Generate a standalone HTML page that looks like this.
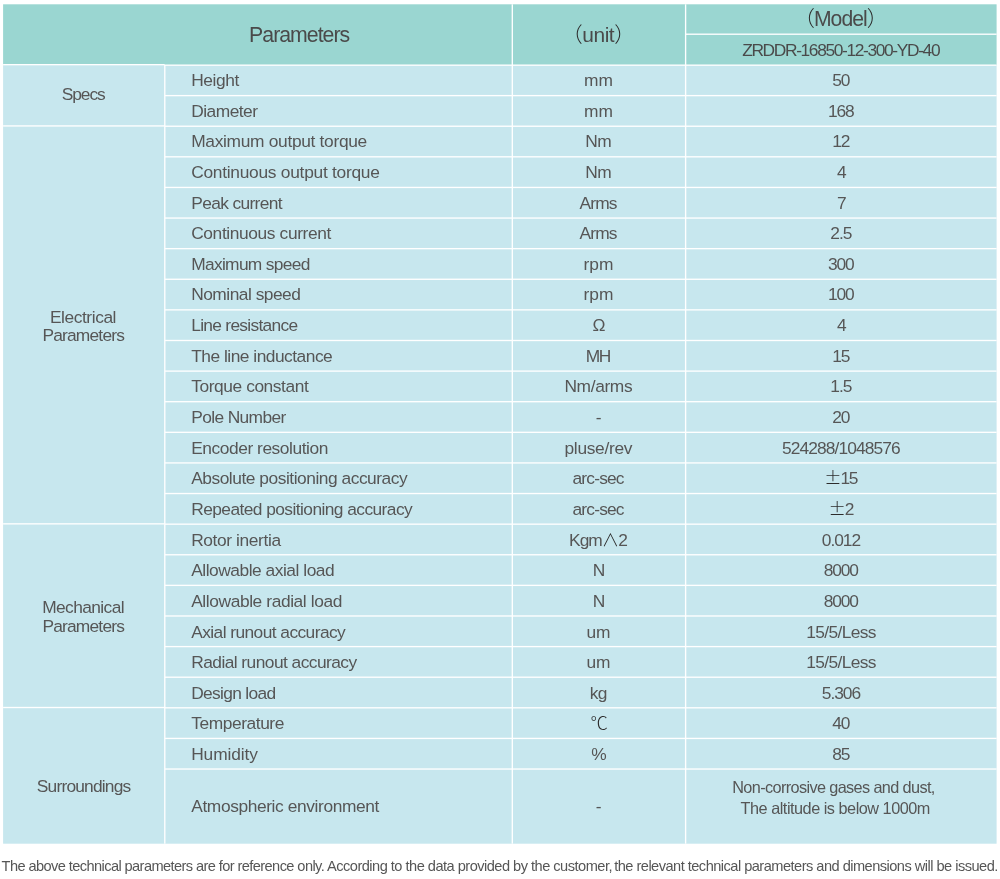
<!DOCTYPE html>
<html lang="en"><head><meta charset="utf-8"><title>Parameters</title>
<style>
html,body{margin:0;padding:0;background:#fff;}
body{width:1000px;height:879px;position:relative;overflow:hidden;font-family:"Liberation Sans","Noto Sans CJK SC",sans-serif;font-weight:300;color:#565656;}
svg.bg{position:absolute;left:0;top:0;}
.t{position:absolute;white-space:nowrap;line-height:24px;height:24px;}
.pm{font-family:"Noto Sans CJK SC",sans-serif;line-height:0;color:#2c2c2c;}
.k{color:#2c2c2c;}
.h{color:#4a4a4a;}
.note{margin:0;}
span.t{display:block;}
</style></head><body>
<svg class="bg" width="1000" height="879" viewBox="0 0 1000 879">
<rect x="3.1" y="4.3" width="993.5" height="60.7" fill="#9ad6d1"/>
<rect x="3.1" y="65.0" width="993.5" height="778.7" fill="#c7e7ee"/>
<rect x="3.1" y="63.98" width="161.70" height="1.35" fill="#fff"/>
<rect x="164.8" y="64.48" width="831.80" height="1.35" fill="#fff"/>
<rect x="685.6" y="33.53" width="311.00" height="1.35" fill="#fff"/>
<rect x="511.62" y="4.3" width="1.35" height="839.40" fill="#fff"/>
<rect x="684.93" y="4.3" width="1.35" height="839.40" fill="#fff"/>
<rect x="164.12" y="65.0" width="1.35" height="778.70" fill="#fff"/>
<rect x="164.8" y="94.94" width="831.80" height="1.35" fill="#fff"/>
<rect x="3.1" y="125.25" width="161.70" height="1.35" fill="#fff"/>
<rect x="164.8" y="125.55" width="831.80" height="1.35" fill="#fff"/>
<rect x="164.8" y="156.15" width="831.80" height="1.35" fill="#fff"/>
<rect x="164.8" y="186.76" width="831.80" height="1.35" fill="#fff"/>
<rect x="164.8" y="217.38" width="831.80" height="1.35" fill="#fff"/>
<rect x="164.8" y="247.98" width="831.80" height="1.35" fill="#fff"/>
<rect x="164.8" y="278.59" width="831.80" height="1.35" fill="#fff"/>
<rect x="164.8" y="309.20" width="831.80" height="1.35" fill="#fff"/>
<rect x="164.8" y="339.81" width="831.80" height="1.35" fill="#fff"/>
<rect x="164.8" y="370.43" width="831.80" height="1.35" fill="#fff"/>
<rect x="164.8" y="401.03" width="831.80" height="1.35" fill="#fff"/>
<rect x="164.8" y="431.64" width="831.80" height="1.35" fill="#fff"/>
<rect x="164.8" y="462.25" width="831.80" height="1.35" fill="#fff"/>
<rect x="164.8" y="492.86" width="831.80" height="1.35" fill="#fff"/>
<rect x="3.1" y="523.18" width="161.70" height="1.35" fill="#fff"/>
<rect x="164.8" y="523.48" width="831.80" height="1.35" fill="#fff"/>
<rect x="164.8" y="554.09" width="831.80" height="1.35" fill="#fff"/>
<rect x="164.8" y="584.70" width="831.80" height="1.35" fill="#fff"/>
<rect x="164.8" y="615.31" width="831.80" height="1.35" fill="#fff"/>
<rect x="164.8" y="645.92" width="831.80" height="1.35" fill="#fff"/>
<rect x="164.8" y="676.53" width="831.80" height="1.35" fill="#fff"/>
<rect x="3.1" y="706.84" width="161.70" height="1.35" fill="#fff"/>
<rect x="164.8" y="707.13" width="831.80" height="1.35" fill="#fff"/>
<rect x="164.8" y="737.75" width="831.80" height="1.35" fill="#fff"/>
<rect x="164.8" y="768.36" width="831.80" height="1.35" fill="#fff"/>
</svg>
<main>
<div class="thead">
<div class="t h" style="left:249.1px;top:23.2px;font-size:21.27px;letter-spacing:-0.983px">Parameters</div>
<div class="t h" style="left:561.7px;top:22.8px;font-size:20.94px;letter-spacing:-0.427px"><span class="k">（</span>unit<span class="k">）</span></div>
<div class="t h" style="left:793.7px;top:6.8px;font-size:21.16px;letter-spacing:-0.938px"><span class="k">（</span>Model<span class="k">）</span></div>
<div class="t h" style="left:742.2px;top:38.2px;font-size:17.36px;letter-spacing:-1.359px">ZRDDR-16850-12-300-YD-40</div>
</div>
<div class="tbody">
<div class="r"><div class="t" style="left:191.2px;top:68.2px;font-size:17.36px;letter-spacing:-0.393px">Height</div><div class="t" style="left:584.0px;top:68.2px;font-size:17.36px;letter-spacing:0.008px">mm</div><div class="t" style="left:832.3px;top:68.2px;font-size:17.36px;letter-spacing:-1.094px">50</div></div>
<div class="r"><div class="t" style="left:191.2px;top:99.2px;font-size:17.36px;letter-spacing:-0.516px">Diameter</div><div class="t" style="left:584.0px;top:99.2px;font-size:17.36px;letter-spacing:0.008px">mm</div><div class="t" style="left:828.0px;top:99.2px;font-size:17.36px;letter-spacing:-1.094px">168</div></div>
<div class="r"><div class="t" style="left:191.2px;top:129.2px;font-size:17.36px;letter-spacing:-0.315px">Maximum output torque</div><div class="t" style="left:585.3px;top:129.2px;font-size:17.36px;letter-spacing:-0.609px">Nm</div><div class="t" style="left:832.3px;top:129.2px;font-size:17.36px;letter-spacing:-1.094px">12</div></div>
<div class="r"><div class="t" style="left:191.2px;top:160.2px;font-size:17.36px;letter-spacing:-0.274px">Continuous output torque</div><div class="t" style="left:585.3px;top:160.2px;font-size:17.36px;letter-spacing:-0.609px">Nm</div><div class="t" style="left:837.1px;top:160.2px;font-size:17.36px;letter-spacing:0.000px">4</div></div>
<div class="r"><div class="t" style="left:191.2px;top:191.2px;font-size:17.36px;letter-spacing:-0.639px">Peak current</div><div class="t" style="left:579.6px;top:191.2px;font-size:17.36px;letter-spacing:-0.910px">Arms</div><div class="t" style="left:837.1px;top:191.2px;font-size:17.36px;letter-spacing:0.000px">7</div></div>
<div class="r"><div class="t" style="left:191.2px;top:221.2px;font-size:17.36px;letter-spacing:-0.384px">Continuous current</div><div class="t" style="left:579.6px;top:221.2px;font-size:17.36px;letter-spacing:-0.910px">Arms</div><div class="t" style="left:830.3px;top:221.2px;font-size:17.36px;letter-spacing:-1.005px">2.5</div></div>
<div class="r"><div class="t" style="left:191.2px;top:252.2px;font-size:17.36px;letter-spacing:-0.680px">Maximum speed</div><div class="t" style="left:583.6px;top:252.2px;font-size:17.36px;letter-spacing:-0.005px">rpm</div><div class="t" style="left:828.0px;top:252.2px;font-size:17.36px;letter-spacing:-1.094px">300</div></div>
<div class="r"><div class="t" style="left:191.2px;top:282.2px;font-size:17.36px;letter-spacing:-0.506px">Nominal speed</div><div class="t" style="left:583.6px;top:282.2px;font-size:17.36px;letter-spacing:-0.005px">rpm</div><div class="t" style="left:828.0px;top:282.2px;font-size:17.36px;letter-spacing:-1.094px">100</div></div>
<div class="r"><div class="t" style="left:191.2px;top:313.2px;font-size:17.36px;letter-spacing:-0.703px">Line resistance</div><div class="t" style="left:592.6px;top:313.2px;font-size:17.36px;letter-spacing:0.000px">Ω</div><div class="t" style="left:837.1px;top:313.2px;font-size:17.36px;letter-spacing:0.000px">4</div></div>
<div class="r"><div class="t" style="left:191.2px;top:344.2px;font-size:17.36px;letter-spacing:-0.498px">The line inductance</div><div class="t" style="left:585.8px;top:344.2px;font-size:17.36px;letter-spacing:-1.523px">MH</div><div class="t" style="left:832.3px;top:344.2px;font-size:17.36px;letter-spacing:-1.094px">15</div></div>
<div class="r"><div class="t" style="left:191.2px;top:374.2px;font-size:17.36px;letter-spacing:-0.423px">Torque constant</div><div class="t" style="left:564.4px;top:374.2px;font-size:17.36px;letter-spacing:-0.359px">Nm/arms</div><div class="t" style="left:830.3px;top:374.2px;font-size:17.36px;letter-spacing:-1.005px">1.5</div></div>
<div class="r"><div class="t" style="left:191.2px;top:405.2px;font-size:17.36px;letter-spacing:-0.624px">Pole Number</div><div class="t" style="left:595.8px;top:405.2px;font-size:17.36px;letter-spacing:0.000px">-</div><div class="t" style="left:832.3px;top:405.2px;font-size:17.36px;letter-spacing:-1.094px">20</div></div>
<div class="r"><div class="t" style="left:191.2px;top:436.2px;font-size:17.36px;letter-spacing:-0.448px">Encoder resolution</div><div class="t" style="left:564.5px;top:436.2px;font-size:17.36px;letter-spacing:-0.307px">pluse/rev</div><div class="t" style="left:782.1px;top:436.2px;font-size:17.36px;letter-spacing:-0.911px">524288/1048576</div></div>
<div class="r"><div class="t" style="left:191.2px;top:466.2px;font-size:17.36px;letter-spacing:-0.471px">Absolute positioning accuracy</div><div class="t" style="left:572.5px;top:466.2px;font-size:17.36px;letter-spacing:-0.815px">arc-sec</div><div class="t" style="left:824.2px;top:466.2px;font-size:17.36px;letter-spacing:-1.182px"><span class="pm">±</span>15</div></div>
<div class="r"><div class="t" style="left:191.2px;top:497.2px;font-size:17.36px;letter-spacing:-0.568px">Repeated positioning accuracy</div><div class="t" style="left:572.5px;top:497.2px;font-size:17.36px;letter-spacing:-0.815px">arc-sec</div><div class="t" style="left:828.5px;top:497.2px;font-size:17.36px;letter-spacing:-1.227px"><span class="pm">±</span>2</div></div>
<div class="r"><div class="t" style="left:191.2px;top:528.2px;font-size:17.36px;letter-spacing:-0.392px">Rotor inertia</div><div class="t" style="left:569.1px;top:528.2px;font-size:17.36px;letter-spacing:-1.003px">Kgm<span class="k">∧</span>2</div><div class="t" style="left:821.8px;top:528.2px;font-size:17.36px;letter-spacing:-1.041px">0.012</div></div>
<div class="r"><div class="t" style="left:191.2px;top:558.2px;font-size:17.36px;letter-spacing:-0.473px">Allowable axial load</div><div class="t" style="left:592.8px;top:558.2px;font-size:17.36px;letter-spacing:0.000px">N</div><div class="t" style="left:823.7px;top:558.2px;font-size:17.36px;letter-spacing:-1.094px">8000</div></div>
<div class="r"><div class="t" style="left:191.2px;top:589.2px;font-size:17.36px;letter-spacing:-0.406px">Allowable radial load</div><div class="t" style="left:592.8px;top:589.2px;font-size:17.36px;letter-spacing:0.000px">N</div><div class="t" style="left:823.7px;top:589.2px;font-size:17.36px;letter-spacing:-1.094px">8000</div></div>
<div class="r"><div class="t" style="left:191.2px;top:620.2px;font-size:17.36px;letter-spacing:-0.567px">Axial runout accuracy</div><div class="t" style="left:586.5px;top:620.2px;font-size:17.36px;letter-spacing:-0.117px">um</div><div class="t" style="left:806.3px;top:620.2px;font-size:17.36px;letter-spacing:-0.639px">15/5/Less</div></div>
<div class="r"><div class="t" style="left:191.2px;top:650.2px;font-size:17.36px;letter-spacing:-0.550px">Radial runout accuracy</div><div class="t" style="left:586.5px;top:650.2px;font-size:17.36px;letter-spacing:-0.117px">um</div><div class="t" style="left:806.3px;top:650.2px;font-size:17.36px;letter-spacing:-0.639px">15/5/Less</div></div>
<div class="r"><div class="t" style="left:191.2px;top:681.2px;font-size:17.36px;letter-spacing:-0.668px">Design load</div><div class="t" style="left:589.7px;top:681.2px;font-size:17.36px;letter-spacing:-0.734px">kg</div><div class="t" style="left:821.8px;top:681.2px;font-size:17.36px;letter-spacing:-1.041px">5.306</div></div>
<div class="r"><div class="t" style="left:191.2px;top:711.2px;font-size:17.36px;letter-spacing:-0.426px">Temperature</div><div class="t" style="left:590.5px;top:711.2px;font-size:17.36px;letter-spacing:0.000px"><span class="k">℃</span></div><div class="t" style="left:832.3px;top:711.2px;font-size:17.36px;letter-spacing:-1.094px">40</div></div>
<div class="r"><div class="t" style="left:191.2px;top:742.2px;font-size:17.36px;letter-spacing:-0.113px">Humidity</div><div class="t" style="left:591.3px;top:742.2px;font-size:17.36px;letter-spacing:0.000px">%</div><div class="t" style="left:832.3px;top:742.2px;font-size:17.36px;letter-spacing:-1.094px">85</div></div>
<div class="r"><div class="t" style="left:191.2px;top:794.2px;font-size:17.36px;letter-spacing:-0.391px">Atmospheric environment</div><div class="t" style="left:595.8px;top:794.2px;font-size:17.36px;letter-spacing:0.000px">-</div><div class="t" style="left:732.2px;top:775.2px;font-size:16.27px;letter-spacing:-0.623px">Non-corrosive gases and dust,</div><div class="t" style="left:740.6px;top:796.2px;font-size:16.27px;letter-spacing:-0.490px">The altitude is below 1000m</div></div>
</div>
<div class="groups">
<div class="t g" style="left:61.8px;top:82.2px;font-size:17.36px;letter-spacing:-1.091px">Specs</div>
<div class="t g" style="left:49.9px;top:305.2px;font-size:17.36px;letter-spacing:-0.427px">Electrical</div>
<div class="t g" style="left:42.4px;top:323.2px;font-size:17.36px;letter-spacing:-0.800px">Parameters</div>
<div class="t g" style="left:42.2px;top:595.2px;font-size:17.36px;letter-spacing:-0.606px">Mechanical</div>
<div class="t g" style="left:42.4px;top:614.2px;font-size:17.36px;letter-spacing:-0.800px">Parameters</div>
<div class="t g" style="left:36.8px;top:774.2px;font-size:17.36px;letter-spacing:-0.803px">Surroundings</div>
</div>
<p class="note">
<span class="t n" style="left:1.6px;top:854.2px;font-size:14.60px;letter-spacing:-0.586px">The above technical parameters are for reference only.</span>
<span class="t n" style="left:327.0px;top:854.2px;font-size:14.60px;letter-spacing:-0.513px">According to the data provided by the customer,</span>
<span class="t n" style="left:614.2px;top:854.2px;font-size:14.60px;letter-spacing:-0.521px">the relevant technical parameters and dimensions will be issued.</span>
</p>
</main>
</body></html>
